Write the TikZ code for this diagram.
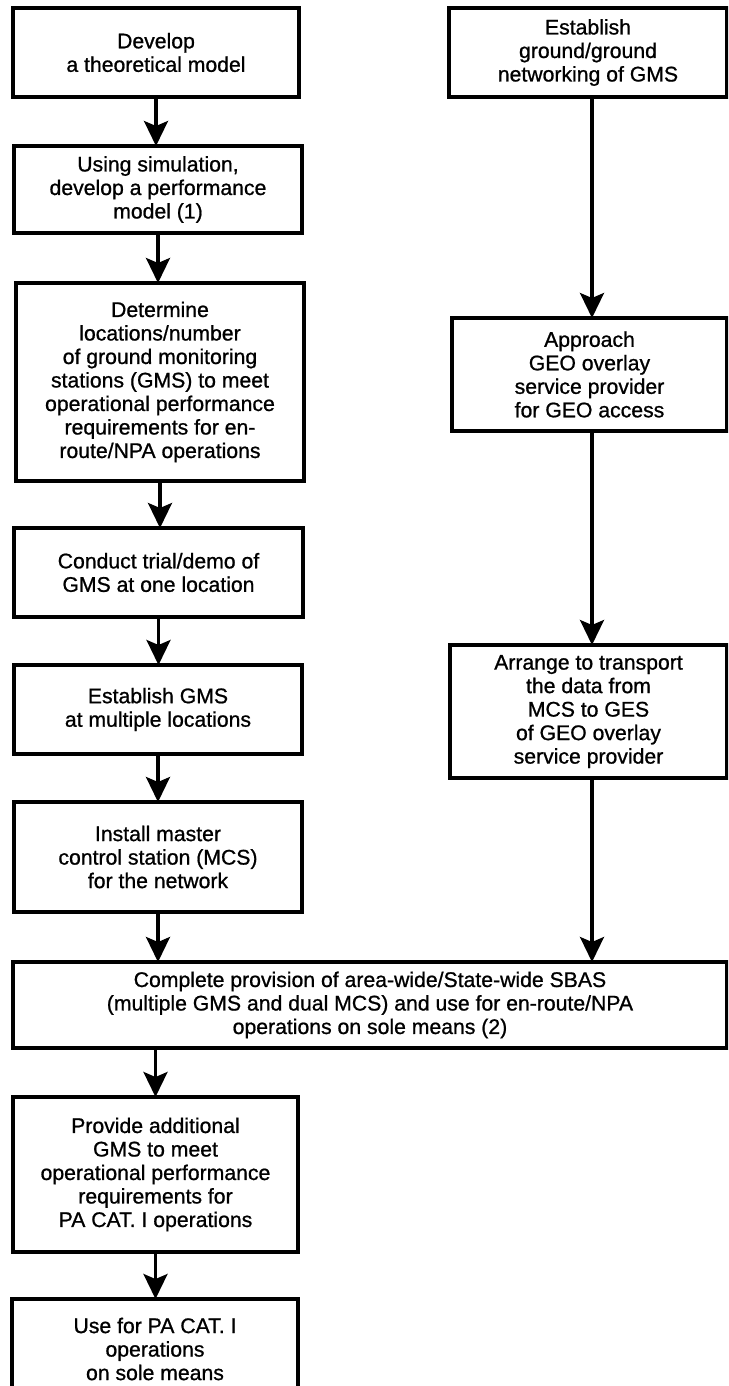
\documentclass[tikz,border=0pt]{standalone}
\usepackage{fontspec}
\setmainfont{Liberation Sans}[FakeBold=0.9]
\usetikzlibrary{arrows.meta}
\begin{document}
\begin{tikzpicture}[x=1pt,y=-1pt,
  stepbox/.style={draw, rectangle, line width=3.2pt, inner sep=0pt, outer sep=0pt,
    align=center, font=\fontsize{21.2}{23.5}\selectfont},
  flow/.style={line width=3.2pt, -{Stealth[length=25pt,width=24pt,inset=5pt]}}]
\useasboundingbox (0,0) rectangle (728,1386);
\clip (0,0) rectangle (728,1386);

% left column
\node[stepbox, minimum width=286pt, minimum height=89pt] (b1) at (156,52.5)
  {Develop\\a theoretical model};
\node[stepbox, minimum width=288pt, minimum height=87pt] (b2) at (158,189.5)
  {Using simulation,\\develop a performance\\model (1)};
\node[stepbox, minimum width=288pt, minimum height=198pt] (b3) at (160,382)
  {Determine\\locations/number\\of ground monitoring\\stations (GMS) to meet\\operational performance\\requirements for en-\\route/NPA operations};
\node[stepbox, minimum width=289pt, minimum height=89pt] (b4) at (158.5,572.5)
  {Conduct trial/demo of\\GMS at one location};
\node[stepbox, minimum width=288pt, minimum height=89pt] (b5) at (158,709.5)
  {Establish GMS\\at multiple locations};
\node[stepbox, minimum width=288pt, minimum height=110pt] (b6) at (158,857)
  {Install master\\control station (MCS)\\for the network};

% right column
\node[stepbox, minimum width=278pt, minimum height=89pt] (r1) at (588,52.5)
  {Establish\\ground/ground\\networking of GMS};
\node[stepbox, minimum width=275pt, minimum height=113pt] (r2) at (589.5,374.5)
  {Approach\\GEO overlay\\service provider\\for GEO access};
\node[stepbox, minimum width=277pt, minimum height=133pt] (r3) at (588.5,711.5)
  {Arrange to transport\\the data from\\MCS to GES\\of GEO overlay\\service provider};
\coordinate (rx) at (592,0);

% joint step and the steps after it
\node[stepbox, minimum width=714pt, minimum height=86pt] (wide) at (370,1005)
  {Complete provision of area-wide/State-wide SBAS\\(multiple GMS and dual MCS) and use for en-route/NPA\\operations on sole means (2)};
\node[stepbox, minimum width=285pt, minimum height=155pt] (b8) at (155.5,1174.5)
  {Provide additional\\GMS to meet\\operational performance\\requirements for\\PA CAT. I operations};
\node[stepbox, minimum width=286pt, minimum height=100pt] (b9) at (155,1349)
  {Use for PA CAT. I\\operations\\on sole means};

% connectors
\draw[flow] (b1.south) -- (b1.south |- b2.north);
\draw[flow] (b2.south) -- (b2.south |- b3.north);
\draw[flow] (b3.south) -- (b3.south |- b4.north);
\draw[flow] (b4.south) -- (b4.south |- b5.north);
\draw[flow] (b5.south) -- (b5.south |- b6.north);
\draw[flow] (b6.south) -- (b6.south |- wide.north);
\draw[flow] (r1.south -| rx) -- (r2.north -| rx);
\draw[flow] (r2.south -| rx) -- (r3.north -| rx);
\draw[flow] (r3.south -| rx) -- (wide.north -| rx);
\draw[flow] (wide.south -| b8.north) -- (b8.north);
\draw[flow] (b8.south) -- (b8.south |- b9.north);
\end{tikzpicture}
\end{document}
